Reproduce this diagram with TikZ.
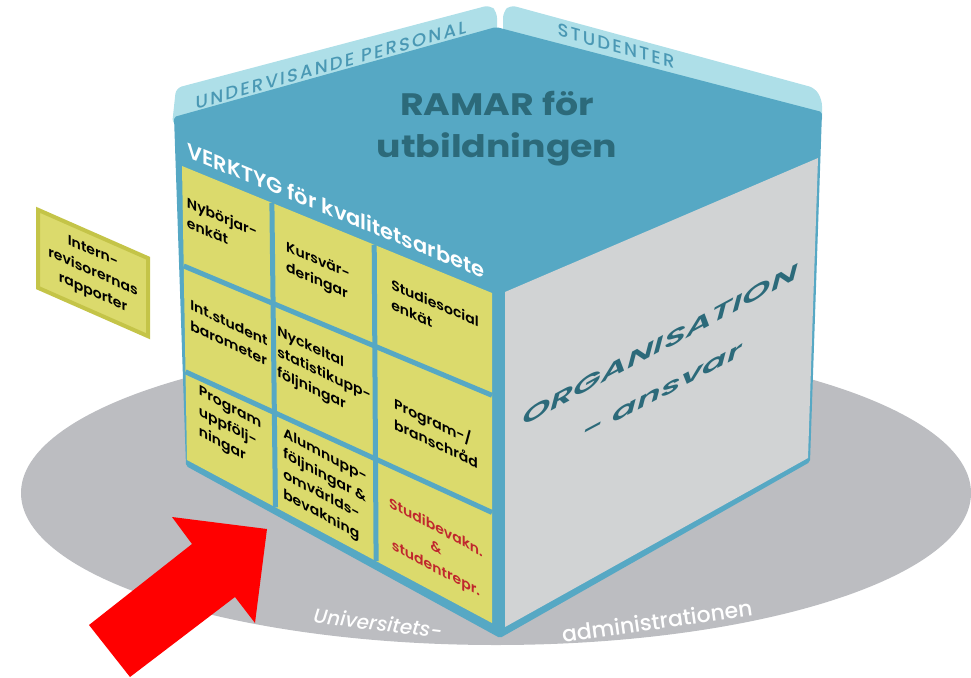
\documentclass[tikz,border=0pt]{standalone}
\usepackage{fontspec}
\setmainfont{Poppins}
\newfontfamily\popsemi{Poppins SemiBold}
\newfontfamily\popmed{Poppins Medium}
\usetikzlibrary{calc}
\definecolor{cubeblue}{RGB}{86,168,196}
\definecolor{tabblue}{RGB}{174,223,232}
\definecolor{tabink}{RGB}{74,152,180}
\definecolor{darkteal}{RGB}{44,106,122}
\definecolor{panelgrey}{RGB}{209,211,212}
\definecolor{groundgrey}{RGB}{188,189,193}
\definecolor{cellyellow}{RGB}{219,218,108}
\definecolor{boxolive}{RGB}{196,196,72}
\definecolor{studred}{RGB}{192,39,45}
\definecolor{arrowred}{RGB}{255,0,0}

\begin{document}
\begin{tikzpicture}[x=1pt, y=-1pt,
    cell/.style={font=\fontsize{14}{20.5}\selectfont\popsemi, align=left, inner sep=0pt},
    tablabel/.style={font=\fontsize{18}{20}\selectfont\popmed\addfontfeature{LetterSpace=12}, text=tabink, inner sep=0pt},
    ramar/.style={font=\fontsize{31}{40}\selectfont\bfseries, text=darkteal, xscale=1.17, anchor=base, inner sep=0pt},
    orga/.style={font=\fontsize{21}{26}\selectfont\popsemi\itshape, text=darkteal, inner sep=0pt},
    ground/.style={font=\fontsize{22}{24}\selectfont\popmed, text=white, inner sep=0pt},
    gridline/.style={cubeblue, line width=5pt}]
    \useasboundingbox (0,0) rectangle (971,677);

    % Universitetsadministrationen (ground)
    \fill[groundgrey] (496,493) ellipse [x radius=475pt, y radius=152pt];
    \node[ground, font=\fontsize{20}{24}\selectfont\popmed\itshape, rotate=-7] (univ) at (378,623) {Universitets-};
    \node[ground, rotate=8] (admin) at (657,621) {administrationen};

    % Tabs on top
    \fill[tabblue, rounded corners=6pt] (172,125) -- (176,88) -- (490,5) -- (497,12) -- (497,40) -- cycle;
    \fill[tabblue, rounded corners=6pt] (503,40) -- (503,12) -- (510,5) -- (815,88) -- (822,100) -- (822,125) -- cycle;
    \node[tablabel, yslant=0.28] (undervis) at (331,65) {UNDERVISANDE PERSONAL};
    \node[tablabel, yslant=-0.28] (studenter) at (616,46) {STUDENTER};

    % Cube body
    \fill[cubeblue, rounded corners=2pt] (174,117) -- (496,27) -- (822,112) -- (810,462) -- (500,638) -- (186,466) -- cycle;
    \fill[panelgrey] (505,292) -- (818,158) -- (808,458) -- (505,627) -- cycle;

    % Top face
    \node[ramar] (ramar1) at (497,115) {RAMAR för};
    \node[ramar] (ramar2) at (497,157) {utbildningen};

    % Right face
    \node[orga, yslant=0.54, xscale=1.72] (organ) at (660,345) {ORGANISATION};
    \node[orga, yslant=0.53, xscale=1.72] (ansvar) at (662,392) {- ansvar};

    % Left face: tools grid
    \coordinate (gTL) at (182,166);
    \coordinate (gTR) at (492,293);
    \coordinate (gBR) at (492,623);
    \coordinate (gBL) at (187,460);
    \fill[cellyellow] (gTL) -- (gTR) -- (gBR) -- (gBL) -- cycle;
    \foreach \f in {0.29,0.62}
        \draw[gridline] ($(gTL)!\f!(gTR)$) -- ($(gBL)!\f!(gBR)$);
    \foreach \l/\r in {0.34/0.31, 0.70/0.665}
        \draw[gridline] ($(gTL)!\l!(gBL)$) -- ($(gTR)!\r!(gBR)$);

    \node[font=\fontsize{21}{24}\selectfont\popsemi, text=white, yslant=-0.41, inner sep=0pt] (verktyg) at (336,210) {VERKTYG för kvalitetsarbete};

    \node[cell, yslant=-0.43] (nybor) at (222,227) {Nybörjar-\\enkät};
    \node[cell, yslant=-0.43] (kursv) at (318,272) {Kursvär-\\deringar};
    \node[cell, yslant=-0.43] (studsoc) at (435,313) {Studiesocial\\enkät};
    \node[cell, yslant=-0.47] (intstud) at (229,333) {Int.student\\barometer};
    \node[cell, yslant=-0.47] (nyckel) at (324,375) {Nyckeltal\\statistikupp-\\följningar};
    \node[cell, yslant=-0.47] (bransch) at (436,432) {Program-/\\branschråd};
    \node[cell, yslant=-0.53] (progupp) at (230,429) {Program\\uppfölj-\\ningar};
    \node[cell, yslant=-0.53] (alumn) at (325,487) {Alumnupp-\\följningar \&\\omvärlds-\\bevakning};
    \node[cell, yslant=-0.53, align=center, text=studred] (studbev) at (436,549) {Studibevakn.\\\&\\studentrepr.};

    % Internrevisorernas rapporter
    \node[cell, align=center, draw=boxolive, line width=4pt, fill=cellyellow, yslant=-0.44, minimum width=110pt, minimum height=78pt] (intern) at (93,273) {Intern-\\revisorernas\\rapporter};

    % Red arrow
    \fill[arrowred] (89,625) -- (192,544) -- (172,517) -- (267,529) -- (255,623) -- (235,597) -- (130,677) -- cycle;
\end{tikzpicture}
\end{document}
